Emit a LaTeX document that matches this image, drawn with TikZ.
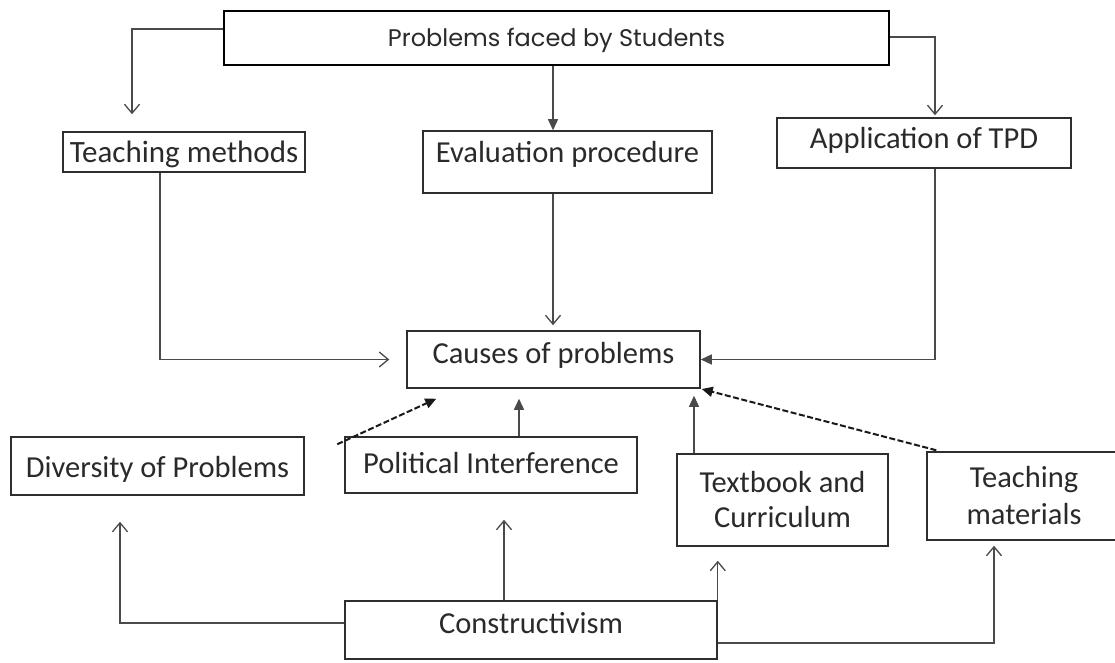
\documentclass[tikz,border=0pt]{standalone}
\usepackage{fontspec}
\setmainfont{Carlito}
\newfontfamily\topfont{Poppins}
\usetikzlibrary{arrows.meta}
\definecolor{txt}{HTML}{2A2A2A}
\definecolor{lnc}{HTML}{4A4A4A}
\definecolor{boxc}{HTML}{2E2E2E}
\begin{document}
\begin{tikzpicture}[x=1pt,y=-1pt,
  box/.style={draw=boxc, line width=1.5pt, inner sep=0pt, align=center, text=txt,
    font=\fontsize{30.5}{37}\selectfont},
  topbox/.style={draw=black, line width=2.4pt, inner sep=0pt, text=txt,
    font=\topfont\fontsize{24}{29}\selectfont},
  ln/.style={draw=lnc, line width=1.3pt},
  dashln/.style={draw=black!90, line width=2pt, dash pattern=on 6pt off 2.5pt},
  opentip/.style={-{Straight Barb[length=9pt,width=15pt,line width=1.3pt]}},
  filltip/.style={-{Triangle[length=11pt,width=10pt]}}]
\clip (0,0) rectangle (1115,663);
\fill[white] (0,0) rectangle (1115,663);

% nodes
\node[topbox, minimum width=665pt, text height=36pt, text depth=18pt] (top) at (556.5,38) {Problems faced by Students};
\node[box, minimum width=242pt, text height=31pt, text depth=9pt, font=\fontsize{31}{37}\selectfont] (tm) at (184,152) {Teaching methods};
\node[box, minimum width=289pt, text height=32pt, text depth=30pt] (ep) at (567.5,162) {Evaluation procedure};
\node[box, minimum width=294pt, text height=31pt, text depth=19pt] (tpd) at (924,143) {Application of TPD};
\node[box, minimum width=293pt, text height=32pt, text depth=25pt] (cp) at (553.5,359.5) {Causes of problems};
\node[box, minimum width=293pt, text height=40pt, text depth=18pt] (dp) at (157.5,466) {Diversity of Problems};
\node[box, minimum width=292pt, text height=36pt, text depth=20pt] (pi) at (491,465) {Political Interference};
\node[box, minimum width=211pt, minimum height=92pt] (tc) at (782.5,500) {Textbook and\\[-2pt]Curriculum};
\node[box, minimum width=194pt, minimum height=88pt] (tmat) at (1024,496) {Teaching\\[0pt]materials};
\node[box, minimum width=372pt, text height=32pt, text depth=26pt] (con) at (531,630) {Constructivism};

% connectors from the top box
\draw[ln, opentip, shorten >=17pt] ([yshift=9pt]top.west) -| ([xshift=-52pt]tm.north);
\draw[ln, filltip] ([xshift=-3.5pt]top.south) -- ([xshift=-3.5pt]top.south |- ep.north);
\draw[ln, opentip, shorten >=2pt] ([yshift=1pt]top.east) -| ([xshift=11pt]tpd.north);

% into causes
\draw[ln, opentip, shorten >=17pt] ([xshift=-24pt]tm.south) |- (cp.west);
\draw[ln, opentip, shorten >=5pt] ([xshift=-14.5pt]ep.south) -- ([xshift=-14.5pt]ep.south |- cp.north);
\draw[ln, filltip] ([xshift=11pt]tpd.south) |- (cp.east);
\draw[ln, filltip, shorten >=10pt] ([xshift=28pt]pi.north) -- ([xshift=28pt]pi.north |- cp.south);
\draw[ln, filltip, shorten >=7pt] ([xshift=-88.5pt]tc.north) -- ([xshift=-88.5pt]tc.north |- cp.south);
\draw[dashln, filltip] ([xshift=-7pt,yshift=-8pt]pi.north west) -- ([xshift=30pt,yshift=-10pt]cp.south west);
\draw[dashln, filltip, shorten >=1pt] ([xshift=10pt,yshift=1pt]tmat.north west) -- (cp.south east);

% from constructivism
\draw[ln, opentip, shorten >=26pt] ([yshift=7pt]con.west) -| ([xshift=-37.5pt]dp.south);
\draw[ln, opentip, shorten >=26pt] ([xshift=-27pt]con.north) -- ([xshift=-27pt]con.north |- pi.south);
\draw[ln, opentip, shorten >=14pt] (con.north east) -- (con.north east |- tc.south);
\draw[ln, opentip, shorten >=5pt] ([yshift=-13pt]con.east) -| ([xshift=-30pt]tmat.south);
\end{tikzpicture}
\end{document}
